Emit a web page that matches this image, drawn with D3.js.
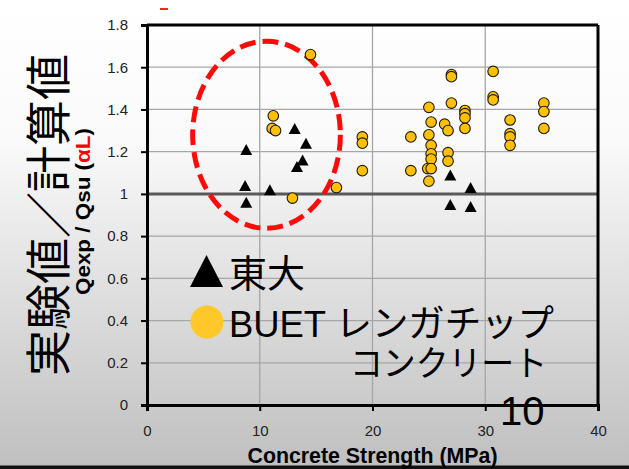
<!DOCTYPE html>
<html><head><meta charset="utf-8">
<script src="https://cdn.jsdelivr.net/npm/d3@7"></script>
<style>html,body{margin:0;padding:0;overflow:hidden;}</style>
</head><body>
<svg id="c" width="629" height="469"></svg>
<script>
// ---- data ----
const todaiX = [8.8, 8.7, 8.8, 10.9, 13.1, 14.1, 13.8, 13.3, 26.9, 28.7, 26.9, 28.7];
const todaiY = [1.21, 1.04, 0.96, 1.02, 1.31, 1.24, 1.16, 1.13, 1.09, 1.03, 0.95, 0.94];
const buetX = [14.5, 11.2, 11.1, 11.4, 12.9, 16.8, 19.1, 19.1, 19.1,
  27.0, 27.0, 30.7, 30.7, 30.7, 25.0, 27.0, 28.2, 28.2, 28.2, 28.2,
  25.2, 26.4, 26.7, 23.4, 25.0, 25.2, 25.2, 25.2, 26.7, 26.7,
  23.4, 24.9, 25.2, 25.0, 32.2, 32.2, 32.2, 32.2, 35.2, 35.2, 35.2];
const buetY = [1.66, 1.37, 1.31, 1.30, 0.98, 1.03, 1.27, 1.24, 1.11,
  1.565, 1.555, 1.58, 1.46, 1.445, 1.41, 1.43, 1.395, 1.38, 1.36, 1.31,
  1.34, 1.33, 1.30, 1.27, 1.28, 1.23, 1.19, 1.165, 1.195, 1.155,
  1.11, 1.12, 1.12, 1.06, 1.35, 1.285, 1.27, 1.23, 1.43, 1.39, 1.31];
const xTicks = [0, 10, 20, 30, 40];
const xTickLabels = ["0", "10", "20", "30", "40"];
const yTicks = [0, 0.2, 0.4, 0.6, 0.8, 1, 1.2, 1.4, 1.6, 1.8];
const yTickLabels = ["0", "0.2", "0.4", "0.6", "0.8", "1", "1.2", "1.4", "1.6", "1.8"];
const highlight = {cx: 10.6, cy: 1.28, rx: 6.55, ry: 0.443};
const xTitle = "Concrete Strength (MPa)";
const yTitle = "実験値／計算値";
const legendNames = ["東大", "BUET レンガチップ", "コンクリート"];
const pageNumber = "10";

// ---- drawing ----
const svg = d3.select("#c");
const defs = svg.append("defs");
const g = defs.append("linearGradient").attr("id", "bg").attr("x1", 0).attr("y1", 0).attr("x2", 0).attr("y2", 1);
g.append("stop").attr("offset", "0").attr("stop-color", "#ffffff");
g.append("stop").attr("offset", "0.3").attr("stop-color", "#fafafa");
g.append("stop").attr("offset", "1").attr("stop-color", "#bfbfbf");
svg.append("rect").attr("width", 629).attr("height", 469).attr("fill", "url(#bg)");
svg.append("rect").attr("x", 0).attr("y", 465.5).attr("width", 629).attr("height", 4).attr("fill", "#111");
svg.append("line").attr("x1", 160).attr("x2", 168).attr("y1", 9).attr("y2", 9).attr("stroke", "#ff2020").attr("stroke-width", 2);

const x = d3.scaleLinear().domain([0, 40]).range([147, 598]);
const y = d3.scaleLinear().domain([0, 1.8]).range([405, 25]);

// gridlines
svg.append("g").selectAll("line").data(xTicks.filter(d => d > 0 && d < 40)).join("line")
  .attr("x1", d => x(d)).attr("x2", d => x(d)).attr("y1", y(0)).attr("y2", y(1.8))
  .attr("stroke", "#a6a6a6").attr("stroke-width", 1.3);
svg.append("g").selectAll("line").data(yTicks.filter(d => d > 0 && d < 1.8 && d !== 1)).join("line")
  .attr("x1", x(0)).attr("x2", x(40)).attr("y1", d => y(d)).attr("y2", d => y(d))
  .attr("stroke", "#a6a6a6").attr("stroke-width", 1.3);
svg.append("line").attr("x1", x(0)).attr("x2", x(40)).attr("y1", y(1)).attr("y2", y(1))
  .attr("stroke", "#595959").attr("stroke-width", 3);

// frame
svg.append("line").attr("x1", x(0)).attr("x2", x(40)).attr("y1", y(1.8)).attr("y2", y(1.8)).attr("stroke", "#000").attr("stroke-width", 3);
svg.append("line").attr("x1", x(40)).attr("x2", x(40)).attr("y1", y(0)).attr("y2", y(1.8)).attr("stroke", "#000").attr("stroke-width", 3);

// axes
const ax = svg.append("g").attr("transform", `translate(0,${y(0)})`)
  .call(d3.axisBottom(x).tickValues(xTicks).tickFormat((d, i) => xTickLabels[i]).tickSize(6).tickPadding(14));
const ay = svg.append("g").attr("transform", `translate(${x(0)},0)`)
  .call(d3.axisLeft(y).tickValues(yTicks).tickFormat((d, i) => yTickLabels[i]).tickSize(6).tickPadding(13));
[ax, ay].forEach(a => {
  a.select(".domain").attr("stroke", "#000").attr("stroke-width", 3);
  a.selectAll(".tick line").attr("stroke", "#000").attr("stroke-width", 2);
  a.selectAll(".tick text").attr("font-family", "Liberation Sans, Arial, sans-serif").attr("font-size", 15).attr("fill", "#222");
});

// highlight ellipse
svg.append("ellipse")
  .attr("cx", x(highlight.cx)).attr("cy", y(highlight.cy))
  .attr("rx", x(highlight.cx + highlight.rx) - x(highlight.cx))
  .attr("ry", y(highlight.cy - highlight.ry) - y(highlight.cy))
  .attr("fill", "none").attr("stroke", "#ff0a0a").attr("stroke-width", 5).attr("stroke-dasharray", "16,7");

// markers
const tri = (cx, cy, w, h) => `M${cx},${cy - h / 2}L${cx + w / 2},${cy + h / 2}L${cx - w / 2},${cy + h / 2}Z`;
svg.append("g").selectAll("circle").data(buetX.map((d, i) => [d, buetY[i]])).join("circle")
  .attr("cx", d => x(d[0])).attr("cy", d => y(d[1])).attr("r", 5.3)
  .attr("fill", "#ffc000").attr("stroke", "#1a1a1a").attr("stroke-width", 1.1);
svg.append("g").selectAll("path").data(todaiX.map((d, i) => [d, todaiY[i]])).join("path")
  .attr("d", d => tri(x(d[0]), y(d[1]), 12, 11)).attr("fill", "#000");

// axis titles
svg.append("text").attr("x", 372.5).attr("y", 463).attr("text-anchor", "middle")
  .attr("font-family", "Liberation Sans, Arial, sans-serif").attr("font-weight", "bold").attr("font-size", 22)
  .attr("textLength", 250).attr("lengthAdjust", "spacingAndGlyphs").attr("fill", "#000").text(xTitle);
svg.append("text").attr("transform", "translate(45,215) rotate(-90)").attr("text-anchor", "middle")
  .attr("dominant-baseline", "central")
  .attr("font-family", "Noto Sans CJK JP, sans-serif").attr("font-size", 46).attr("fill", "#000").text(yTitle);
const sub = svg.append("text").attr("transform", "translate(90,211.5) rotate(-90)").attr("text-anchor", "middle")
  .attr("font-family", "Liberation Sans, Arial, sans-serif").attr("font-weight", "bold").attr("font-size", 20)
  .attr("textLength", 167).attr("lengthAdjust", "spacingAndGlyphs").attr("fill", "#000");
sub.append("tspan").text("Qexp / Qsu (");
sub.append("tspan").attr("fill", "#ff0000").text("αL");
sub.append("tspan").text(")");

// legend
svg.append("path").attr("d", tri(206.5, 271, 33, 32)).attr("fill", "#000");
svg.append("circle").attr("cx", 207).attr("cy", 322).attr("r", 16.5).attr("fill", "#ffc82a");
const lf = "Liberation Sans, Noto Sans CJK JP, sans-serif";
svg.append("text").attr("x", 229).attr("y", 287).attr("font-family", "Noto Sans CJK JP, sans-serif").attr("font-size", 38).attr("fill", "#000").text(legendNames[0]);
svg.append("text").attr("x", 229).attr("y", 337).attr("font-family", lf).attr("font-size", 37)
  .attr("textLength", 325).attr("lengthAdjust", "spacingAndGlyphs").attr("fill", "#000").text(legendNames[1]);
svg.append("text").attr("x", 350).attr("y", 376).attr("font-family", "Noto Sans CJK JP, sans-serif").attr("font-size", 35)
  .attr("textLength", 197).attr("lengthAdjust", "spacingAndGlyphs").attr("fill", "#000").text(legendNames[2]);

// page number
svg.append("text").attr("x", 500).attr("y", 425).attr("font-family", "Liberation Sans, Arial, sans-serif").attr("font-size", 40).attr("fill", "#000").text(pageNumber);
</script>
</body></html>
